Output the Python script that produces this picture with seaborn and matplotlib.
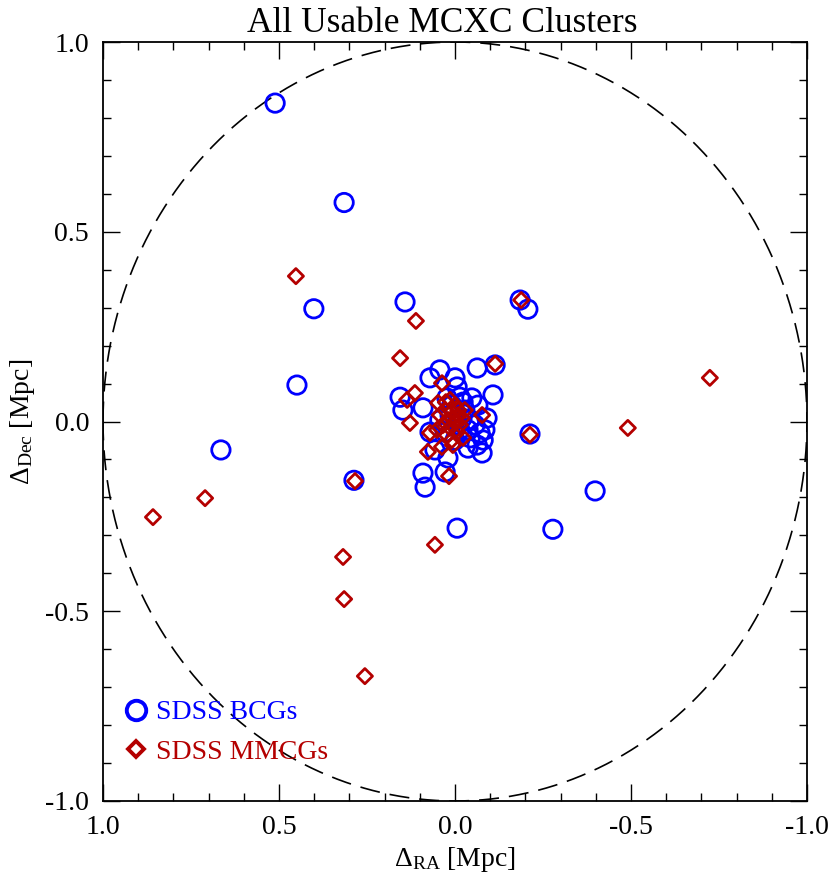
import numpy as np
import pandas as pd
import matplotlib
matplotlib.use("Agg")
import matplotlib.pyplot as plt
from matplotlib.lines import Line2D
from matplotlib.ticker import MultipleLocator
import seaborn as sns

# ---------------- data ----------------
bcg_ra = [0.511, 0.315, 0.401, 0.142, 0.449, 0.665, 0.287, -0.006, -0.278, -0.398,
          -0.185, -0.207, -0.114, -0.213, -0.063, 0.043, 0.071, 0.000, -0.006, -0.108,
          0.156, 0.148, 0.091, -0.014, -0.023, -0.091, 0.071, -0.071, -0.063, -0.037,
          -0.077, 0.020, 0.091, 0.085, 0.028, 0.057,
          -0.028, -0.043, -0.057, -0.014, -0.043, 0.000, -0.020, 0.014, 0.043, 0.028,
          -0.065, 0.009, -0.048, -0.085, -0.009, -0.037, 0.023, -0.080]
bcg_dec = [0.839, 0.577, 0.297, 0.315, 0.096, -0.075, -0.155, -0.281, -0.284, -0.183,
           0.320, 0.296, 0.149, -0.033, 0.141, 0.136, 0.115, 0.115, 0.091, 0.070,
           0.064, 0.030, 0.036, 0.064, 0.051, 0.009, -0.028, -0.030, -0.062, -0.070,
           -0.083, -0.096, -0.136, -0.173, -0.133, -0.075,
           0.030, 0.004, -0.009, -0.022, -0.043, -0.049, 0.009, 0.017, 0.004, -0.028,
           0.043, 0.043, 0.062, -0.022, -0.009, -0.022, 0.062, -0.049]

mmcg_ra = [0.452, 0.111, 0.156, -0.724, -0.491, 0.858, 0.710, 0.284, 0.057, 0.318,
           0.315, 0.256, -0.188, -0.114, -0.213,
           0.037, 0.114, 0.136, 0.128, -0.077, 0.048, 0.014, 0.071, 0.077, 0.037,
           0.006, 0.017,
           0.028, 0.009, -0.009, 0.020, 0.000, -0.014, 0.014, 0.034, -0.006, 0.023,
           -0.020, 0.006, 0.043, -0.028, 0.000, 0.051, 0.009, -0.023, -0.009, 0.026]
mmcg_dec = [0.383, 0.265, 0.167, 0.115, -0.017, -0.252, -0.202, -0.157, -0.325, -0.357,
            -0.468, -0.671, 0.320, 0.152, -0.035,
            0.101, 0.075, 0.057, -0.004, 0.017, 0.049, 0.057, -0.030, -0.080, -0.067,
            -0.062, -0.144,
            0.030, 0.025, 0.017, 0.004, -0.001, -0.009, -0.017, -0.009, -0.028, -0.036,
            0.009, 0.009, 0.017, 0.030, 0.043, -0.022, -0.049, -0.043, 0.030, 0.051]

circle_radius = 1.0
title = "All Usable MCXC Clusters"
labels = ["SDSS BCGs", "SDSS MMCGs"]
blue = "#0000ff"
red = "#b40000"

# ---------------- style ----------------
sns.set_theme(style="ticks")
plt.rcParams["font.family"] = ["Liberation Serif", "DejaVu Serif"]
plt.rcParams["text.color"] = "black"
plt.rcParams["axes.labelcolor"] = "black"
plt.rcParams["mathtext.fontset"] = "custom"
plt.rcParams["mathtext.rm"] = "Liberation Serif"
plt.rcParams["mathtext.it"] = "Liberation Serif:italic"
plt.rcParams["mathtext.bf"] = "Liberation Serif:bold"

fig = plt.figure(figsize=(8.3, 8.81), dpi=100)
ax = fig.add_axes([103 / 830, 1 - 801 / 881, 704 / 830, 759 / 881])

theta = np.linspace(0, 2 * np.pi, 721)
circ = pd.DataFrame({"x": circle_radius * np.cos(theta), "y": circle_radius * np.sin(theta)})
sns.lineplot(data=circ, x="x", y="y", sort=False, ax=ax, color="black",
             linewidth=1.2, estimator=None)
ax.lines[-1].set_dashes((12, 6))

bcg = pd.DataFrame({"ra": bcg_ra, "dec": bcg_dec})
mm = pd.DataFrame({"ra": mmcg_ra, "dec": mmcg_dec})
sns.scatterplot(data=bcg, x="ra", y="dec", ax=ax, marker="o", s=175,
                facecolors="none", edgecolor=blue, linewidth=2.0, zorder=3)
sns.scatterplot(data=mm, x="ra", y="dec", ax=ax, marker="D", s=60,
                facecolors="none", edgecolor=red, linewidth=2.0, zorder=4)

ax.set_xlim(1.0, -1.0)
ax.set_ylim(-1.0, 1.0)
ax.xaxis.set_major_locator(MultipleLocator(0.5))
ax.xaxis.set_minor_locator(MultipleLocator(0.1))
ax.yaxis.set_major_locator(MultipleLocator(0.5))
ax.yaxis.set_minor_locator(MultipleLocator(0.1))
ax.xaxis.set_major_formatter(lambda v, p: f"{v:.1f}")
ax.yaxis.set_major_formatter(lambda v, p: f"{v:.1f}")
ax.tick_params(which="both", direction="in", top=True, right=True, colors="black",
               labelsize=20, width=1.0)
ax.tick_params(which="major", length=12, pad=10)
ax.tick_params(which="minor", length=6)
for sp in ax.spines.values():
    sp.set_linewidth(1.3)
    sp.set_color("black")

ax.set_xlabel(r"$\Delta_{\rm RA}$ [Mpc]", fontsize=20, labelpad=4)
ax.set_ylabel(r"$\Delta_{\rm Dec}$ [Mpc]", fontsize=20, labelpad=6)
ax.set_title(title, fontsize=25.5, pad=7, color="black", x=0.482)

handles = [Line2D([], [], marker="o", linestyle="none", markersize=14, markerfacecolor="none",
                  markeredgecolor=blue, markeredgewidth=2.8),
           Line2D([], [], marker="D", linestyle="none", markersize=8.5, markerfacecolor="none",
                  markeredgecolor=red, markeredgewidth=2.8)]
leg = ax.legend(handles, labels, loc="lower left", bbox_to_anchor=(-0.012, 0.015), frameon=False,
                fontsize=20, handletextpad=0.1, handlelength=1.2, labelspacing=0.5)
for t, c in zip(leg.get_texts(), [blue, red]):
    t.set_color(c)

fig.savefig("out.png", dpi=100)
